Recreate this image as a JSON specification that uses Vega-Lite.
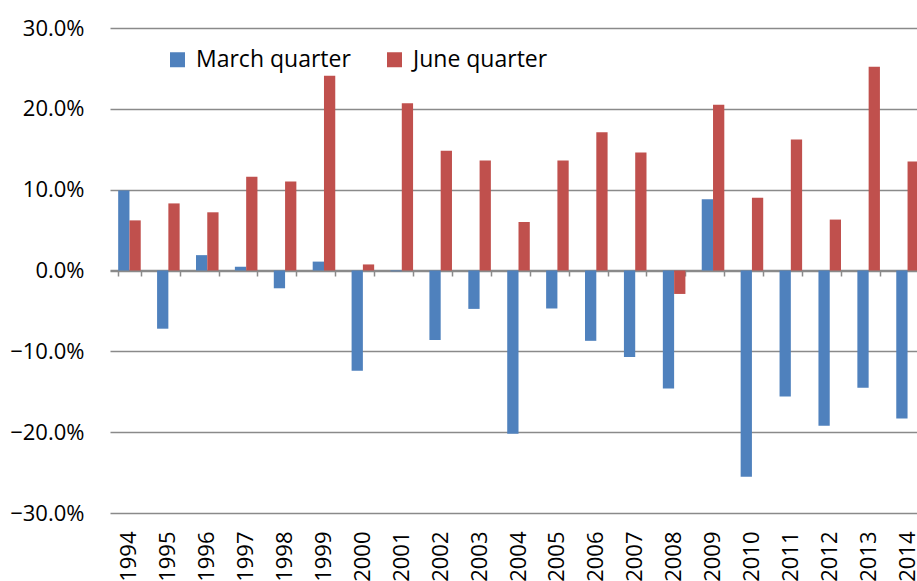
{
  "$schema": "https://vega.github.io/schema/vega-lite/v6.json",
  "width": 807,
  "height": 485,
  "autosize": {"type": "none"},
  "padding": {"left": 110, "top": 28, "right": 0, "bottom": 68},
  "config": {
    "view": {"stroke": null},
    "font": "Open Sans"
  },
  "data": {
    "values": [
      {"year": "1994", "series": "March quarter", "value": 0.099},
      {"year": "1994", "series": "June quarter", "value": 0.062},
      {"year": "1995", "series": "March quarter", "value": -0.072},
      {"year": "1995", "series": "June quarter", "value": 0.083},
      {"year": "1996", "series": "March quarter", "value": 0.019},
      {"year": "1996", "series": "June quarter", "value": 0.072},
      {"year": "1997", "series": "March quarter", "value": 0.0045},
      {"year": "1997", "series": "June quarter", "value": 0.116},
      {"year": "1998", "series": "March quarter", "value": -0.022},
      {"year": "1998", "series": "June quarter", "value": 0.110},
      {"year": "1999", "series": "March quarter", "value": 0.011},
      {"year": "1999", "series": "June quarter", "value": 0.241},
      {"year": "2000", "series": "March quarter", "value": -0.124},
      {"year": "2000", "series": "June quarter", "value": 0.0075},
      {"year": "2001", "series": "March quarter", "value": -0.001},
      {"year": "2001", "series": "June quarter", "value": 0.207},
      {"year": "2002", "series": "March quarter", "value": -0.086},
      {"year": "2002", "series": "June quarter", "value": 0.148},
      {"year": "2003", "series": "March quarter", "value": -0.0475},
      {"year": "2003", "series": "June quarter", "value": 0.136},
      {"year": "2004", "series": "March quarter", "value": -0.202},
      {"year": "2004", "series": "June quarter", "value": 0.060},
      {"year": "2005", "series": "March quarter", "value": -0.047},
      {"year": "2005", "series": "June quarter", "value": 0.136},
      {"year": "2006", "series": "March quarter", "value": -0.087},
      {"year": "2006", "series": "June quarter", "value": 0.171},
      {"year": "2007", "series": "March quarter", "value": -0.107},
      {"year": "2007", "series": "June quarter", "value": 0.146},
      {"year": "2008", "series": "March quarter", "value": -0.146},
      {"year": "2008", "series": "June quarter", "value": -0.029},
      {"year": "2009", "series": "March quarter", "value": 0.088},
      {"year": "2009", "series": "June quarter", "value": 0.205},
      {"year": "2010", "series": "March quarter", "value": -0.255},
      {"year": "2010", "series": "June quarter", "value": 0.090},
      {"year": "2011", "series": "March quarter", "value": -0.156},
      {"year": "2011", "series": "June quarter", "value": 0.162},
      {"year": "2012", "series": "March quarter", "value": -0.192},
      {"year": "2012", "series": "June quarter", "value": 0.063},
      {"year": "2013", "series": "March quarter", "value": -0.145},
      {"year": "2013", "series": "June quarter", "value": 0.252},
      {"year": "2014", "series": "March quarter", "value": -0.183},
      {"year": "2014", "series": "June quarter", "value": 0.135}
    ]
  },
  "resolve": {"axis": {"x": "independent"}},
  "layer": [
    {
      "mark": {"type": "bar", "clip": true},
      "encoding": {
        "x": {
          "field": "year",
          "type": "nominal",
          "scale": {"range": [0, 817], "paddingInner": 0.42, "paddingOuter": 0.21},
          "axis": {
            "orient": "bottom",
            "title": null,
            "domain": false,
            "ticks": false,
            "grid": false,
            "labelAngle": 270,
            "labelFontSize": 22,
            "labelColor": "#000000",
            "labelPadding": 18,
            "labelFont": "Open Sans"
          }
        },
        "xOffset": {
          "field": "series",
          "sort": ["March quarter", "June quarter"],
          "scale": {"paddingInner": 0, "paddingOuter": 0}
        },
        "y": {
          "field": "value",
          "type": "quantitative",
          "scale": {"domain": [-0.3, 0.3], "nice": false},
          "axis": {
            "title": null,
            "format": ".1%",
            "values": [-0.3, -0.2, -0.1, 0, 0.1, 0.2, 0.3],
            "domain": false,
            "ticks": false,
            "grid": true,
            "gridColor": "#8a8a8a",
            "gridWidth": 1.5,
            "gridOpacity": 1,
            "labelFontSize": 22,
            "labelColor": "#000000",
            "labelPadding": 26,
            "labelFont": "Open Sans"
          }
        },
        "color": {
          "field": "series",
          "type": "nominal",
          "sort": ["March quarter", "June quarter"],
          "scale": {"domain": ["March quarter", "June quarter"], "range": ["#4F81BD", "#C0504D"]},
          "legend": {
            "title": null,
            "orient": "none",
            "legendX": 56,
            "legendY": 20,
            "direction": "horizontal",
            "symbolType": "square",
            "symbolSize": 225,
            "symbolStrokeWidth": 0,
            "symbolOpacity": 1,
            "labelFontSize": 23,
            "labelColor": "#000000",
            "labelFont": "Open Sans",
            "labelOffset": 7,
            "columnPadding": 32
          }
        }
      }
    },
    {
      "mark": {"type": "bar", "opacity": 0},
      "encoding": {
        "x": {
          "field": "year",
          "type": "nominal",
          "axis": {
            "orient": "bottom",
            "title": null,
            "labels": false,
            "domain": true,
            "domainColor": "#8a8a8a",
            "domainWidth": 1.5,
            "ticks": true,
            "tickColor": "#8a8a8a",
            "tickWidth": 1.5,
            "tickSize": 6,
            "tickBand": "extent",
            "grid": false,
            "offset": -243,
            "zindex": 0
          }
        },
        "y": {"datum": 0, "type": "quantitative"}
      }
    }
  ]
}
